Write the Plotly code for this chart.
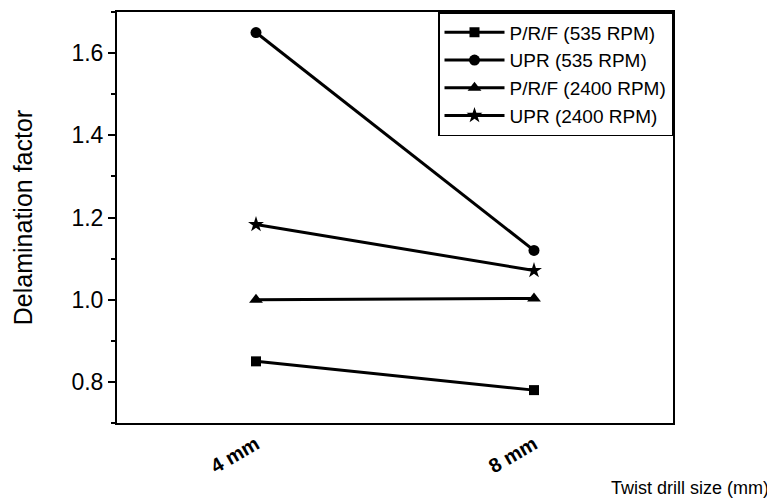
import plotly.graph_objects as go

drill_sizes = ["4 mm", "8 mm"]
prf_535 = [0.85, 0.78]
upr_535 = [1.65, 1.12]
prf_2400 = [1.00, 1.003]
upr_2400 = [1.183, 1.071]
y_ticks = [0.8, 1.0, 1.2, 1.4, 1.6]
y_tick_labels = ["0.8", "1.0", "1.2", "1.4", "1.6"]

series = [
    ("P/R/F (535 RPM)", prf_535, "square", 10),
    ("UPR (535 RPM)", upr_535, "circle", 11),
    ("P/R/F (2400 RPM)", prf_2400, "triangle-up", 12),
    ("UPR (2400 RPM)", upr_2400, "star", 12),
]

fig = go.Figure()
for name, vals, sym, sz in series:
    fig.add_trace(go.Scatter(
        x=list(range(len(drill_sizes))), y=vals, name=name, mode="lines+markers",
        line=dict(color="black", width=3),
        marker=dict(symbol=sym, size=sz, color="black"),
    ))

font = "Liberation Sans, Arial, sans-serif"
fig.update_layout(
    width=767, height=492,
    margin=dict(l=109, r=102, t=2, b=77),
    paper_bgcolor="white", plot_bgcolor="white",
    font=dict(family=font, color="black"),
    showlegend=True,
    legend=dict(x=1, y=1, xanchor="right", yanchor="top",
                bordercolor="black", borderwidth=1.5,
                font=dict(size=19, family=font), tracegroupgap=0,
                itemwidth=60, bgcolor="white"),
    xaxis=dict(
        range=[-0.5, 1.5], tickmode="array",
        tickvals=list(range(len(drill_sizes))), ticktext=drill_sizes,
        tickangle=-30, tickfont=dict(size=20, family=font, weight="bold"),
        showline=True, linecolor="black", linewidth=2, mirror=True,
        ticks="", showgrid=False, zeroline=False,
    ),
    yaxis=dict(
        range=[0.7, 1.7], tickmode="array", tickvals=y_ticks, ticktext=y_tick_labels,
        tickfont=dict(size=23, family=font),
        showline=True, linecolor="black", linewidth=2, mirror=True,
        ticks="outside", ticklen=7, tickwidth=1.5, tickcolor="black",
        minor=dict(ticks="outside", ticklen=4, dtick=0.1, tick0=0.7, tickcolor="black", tickwidth=1.5),
        showgrid=False, zeroline=False,
        title=dict(text="Delamination factor", font=dict(size=25, family=font), standoff=32),
    ),
    annotations=[dict(
        text="Twist drill size (mm)", xref="paper", yref="paper",
        x=1.03, y=-0.157, xanchor="center", yanchor="middle", showarrow=False,
        font=dict(size=18, family=font, color="black"),
    )],
)

fig.write_html("out.html")
